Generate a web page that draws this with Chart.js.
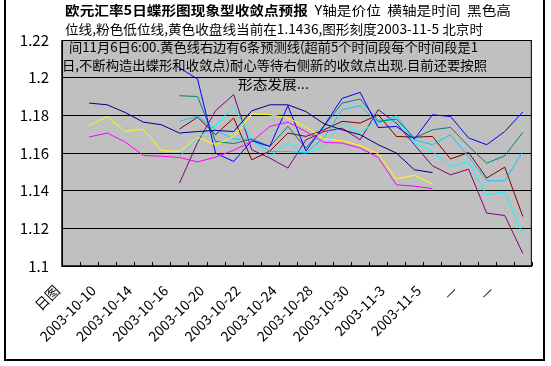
<!DOCTYPE html>
<html><head><meta charset="utf-8">
<script src="https://cdn.jsdelivr.net/npm/chart.js@4.4.1/dist/chart.umd.min.js"></script>
<style>html,body{margin:0;padding:0;background:#fff}canvas{display:block}</style>
</head><body>
<div style="width:551px;height:366px"><canvas id="c" width="551" height="366"></canvas></div>
<script>
// categories (trading days); only every second one is labelled on the axis
const categories = ['日图','2003-10-9','2003-10-10','2003-10-13','2003-10-14','2003-10-15','2003-10-16','2003-10-17',
  '2003-10-20','2003-10-21','2003-10-22','2003-10-23','2003-10-24','2003-10-27','2003-10-28','2003-10-29',
  '2003-10-30','2003-10-31','2003-11-3','2003-11-4','2003-11-5','2003-11-6','—','—','—','—'];
const yTicks = [1.1, 1.12, 1.14, 1.16, 1.18, 1.2, 1.22];

// price lines (index 1 .. 20)
const highLine  = [null,1.1865,1.1856,1.1815,1.1764,1.175,1.1706,1.1714,1.172,1.1714,1.1824,1.1856,1.1856,1.182,1.1755,1.1723,1.1697,1.1644,1.160,1.1511,1.1496];
const closeLine = [null,1.1745,1.1794,1.1714,1.1727,1.1613,1.1608,1.1683,1.1644,1.1688,1.1807,1.1803,1.1786,1.1738,1.1674,1.1665,1.164,1.1596,1.1461,1.1482,1.1436];
const lowLine   = [null,1.1685,1.1706,1.1658,1.1587,1.1583,1.1576,1.1553,1.1578,1.1615,1.1661,1.1741,1.1764,1.1714,1.1656,1.1653,1.1626,1.1576,1.1431,1.1424,1.1411];

// forecast lines (index 6 .. 25)
const pad6 = [null,null,null,null,null,null];
const fBlue    = pad6.concat([1.2052,1.1993,1.1599,1.1555,1.1665,1.1635,1.1851,1.161,1.1745,1.189,1.1922,1.1735,1.1741,1.1674,1.1803,1.1794,1.168,1.1644,1.1714,1.1818]);
const fTeal    = pad6.concat([1.1904,1.19,1.1661,1.165,1.1674,1.1635,1.1741,1.1626,1.1741,1.1865,1.1887,1.1768,1.178,1.168,1.1723,1.1736,1.1636,1.1546,1.1585,1.1709]);
const fSky     = pad6.concat([1.1768,1.1796,1.1723,1.1674,1.1674,1.1608,1.1608,1.16,1.168,1.183,1.1851,1.1759,1.1798,1.167,1.1644,1.1697,1.158,1.1452,1.1452,1.1608]);
const fDarkRed = pad6.concat([1.1727,1.179,1.1697,1.1786,1.1564,1.161,1.1706,1.1688,1.1723,1.1768,1.1759,1.1803,1.1688,1.1684,1.1688,1.1568,1.1603,1.1467,1.1525,1.1263]);
const fCyan    = pad6.concat([1.1581,1.168,1.1745,1.1847,1.167,1.1581,1.1653,1.16,1.1635,1.1759,1.1706,1.1777,1.1768,1.1653,1.1608,1.1528,1.1555,1.1377,1.1395,1.1165]);
const fPurple  = pad6.concat([1.144,1.1655,1.1825,1.191,1.1617,1.1573,1.152,1.167,1.1714,1.1732,1.167,1.183,1.1759,1.1644,1.1532,1.1484,1.1514,1.1281,1.1268,1.1067]);

const titleLines = [
  ['欧元汇率5日蝶形图现象型收敛点预报', '  Y轴是价位  横轴是时间  黑色高'],
  ['位线,粉色低位线,黄色收盘线当前在1.1436,图形刻度2003-11-5 北京时'],
  [' 间11月6日6:00.黄色线右边有6条预测线(超前5个时间段每个时间段是1'],
  ['日,不断构造出蝶形和收敛点)耐心等待右侧新的收敛点出现.目前还要按照'],
  ['形态发展...']
];

function ds(data, color){
  return {data, borderColor: color, backgroundColor: color, borderWidth: 1, pointRadius: 0, tension: 0, spanGaps: false, fill: false};
}

const FONT = '"Noto Sans CJK SC", "Noto Sans", sans-serif';

const decor = {
  id: 'decor',
  beforeDraw(chart){
    const {ctx, chartArea: a} = chart;
    ctx.save();
    ctx.fillStyle = '#fff';
    ctx.fillRect(0, 0, chart.width, chart.height);
    ctx.fillStyle = '#C0C0C0';
    ctx.fillRect(a.left, a.top, a.right - a.left, a.bottom - a.top);
    ctx.restore();
  },
  afterDraw(chart){
    const {ctx, chartArea: a} = chart;
    const xs = chart.scales.x;
    ctx.save();
    ctx.strokeStyle = '#000';
    ctx.lineWidth = 1;
    ctx.strokeRect(a.left + 0.5, a.top + 0.5, a.right - a.left - 1, a.bottom - a.top);
    const half = (xs.getPixelForValue(1) - xs.getPixelForValue(0)) / 2;
    ctx.beginPath();
    for (let i = 0; i <= categories.length; i++) {
      const x = Math.round(xs.getPixelForValue(i) - half) + 0.5;
      ctx.moveTo(x, a.bottom);
      ctx.lineTo(x, a.bottom - 4);
    }
    ctx.stroke();
    ctx.lineWidth = 1.5;
    ctx.beginPath();
    ctx.moveTo(a.left, a.top); ctx.lineTo(a.left, a.bottom); ctx.lineTo(a.right, a.bottom);
    ctx.stroke();
    ctx.lineWidth = 2;
    ctx.strokeRect(5, -2, 539, 362);
    const spans = [[65, 511], [65, 483], [66, 478], [62, 487], [238, 309]];
    const ys = [10.5, 28.8, 47.1, 65.4, 83.7];
    ctx.fillStyle = '#000';
    ctx.textBaseline = 'middle';
    titleLines.forEach((parts, li) => {
      const fonts = parts.map((p, k) => (li === 0 && k === 0 ? 'bold ' : '') + '13px ' + FONT);
      let total = 0;
      const widths = parts.map((p, k) => { ctx.font = fonts[k]; const w = ctx.measureText(p).width; total += w; return w; });
      const [x0, x1] = spans[li];
      const sx = (x1 - x0) / total;
      ctx.save();
      ctx.translate(x0, ys[li]);
      ctx.scale(sx, 1);
      let x = 0;
      parts.forEach((p, k) => { ctx.font = fonts[k]; ctx.fillText(p, x, 0); x += widths[k]; });
      ctx.restore();
    });
    ctx.restore();
  }
};

new Chart(document.getElementById('c'), {
  type: 'line',
  data: {
    labels: categories,
    datasets: [
      ds(highLine, '#000080'),
      ds(lowLine, '#FF00FF'),
      ds(closeLine, '#FFFF00'),
      ds(fBlue, '#0000FF'),
      ds(fTeal, '#008080'),
      ds(fSky, '#00CCFF'),
      ds(fDarkRed, '#800000'),
      ds(fCyan, '#00FFFF'),
      ds(fPurple, '#800080')
    ]
  },
  options: {
    responsive: false,
    animation: false,
    devicePixelRatio: 1,
    layout: {padding: {left: 0, top: 40, right: 16, bottom: 0}},
    plugins: {legend: {display: false}, tooltip: {enabled: false}, title: {display: false}},
    scales: {
      x: {
        type: 'category',
        offset: true,
        grid: {display: false, drawTicks: false},
        border: {display: false},
        afterFit(s){ s.height = 100; },
        ticks: {
          autoSkip: false, maxRotation: 45, minRotation: 45, padding: 16, labelOffset: -14,
          color: '#000', font: {family: FONT, size: 14},
          callback(v, i){ return i % 2 === 0 ? categories[i] : ''; }
        }
      },
      y: {
        min: 1.1, max: 1.22,
        afterFit(s){ s.width = 62; },
        afterBuildTicks(s){ s.ticks = yTicks.map(v => ({value: v})); },
        grid: {color: '#000', lineWidth: 1, drawTicks: false},
        border: {display: false},
        ticks: {
          padding: 13, color: '#000', font: {family: FONT, size: 15},
          callback(v){ return String(Number(v.toFixed(2))); }
        }
      }
    }
  },
  plugins: [decor]
});
</script>
</body></html>
